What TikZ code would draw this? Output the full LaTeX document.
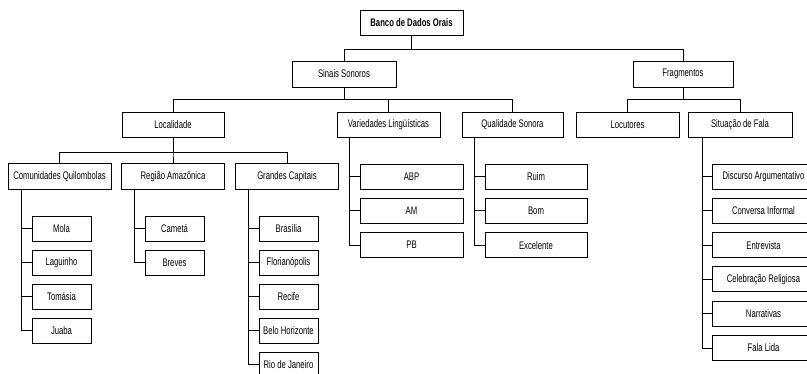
\documentclass[tikz,border=0pt]{standalone}
\usepackage{fontspec}
\setmainfont{Liberation Sans}[FakeStretch=0.7]
\begin{document}
\begin{tikzpicture}[x=1pt,y=-1pt,
  box/.style={draw, line width=1pt, minimum width=103pt, minimum height=25pt, inner sep=0pt,
    font=\fontsize{11}{13}\selectfont},
  leaf/.style={box, minimum width=59pt},
  conn/.style={draw, line width=0.9pt}]
\useasboundingbox (0,0) rectangle (807,373);
% level 0
\node[box, font=\fontsize{11}{13}\selectfont\bfseries] (banco) at (411.5,22.5) {Banco de Dados Orais};
% level 1
\node[box, minimum width=104pt, minimum height=26pt] (sinais) at (344,74) {Sinais Sonoros};
\node[box, minimum width=100pt, minimum height=26pt] (frag) at (683,74) {Fragmentos};
% level 2
\node[box, minimum width=102pt] (loc) at (173,125) {Localidade};
\node[box] (var) at (388.5,125) {Variedades Lingüísticas};
\node[box, minimum width=101pt] (qual) at (512.5,125) {Qualidade Sonora};
\node[box] (locu) at (627.5,125) {Locutores};
\node[box, minimum width=104pt] (sit) at (740,125) {Situação de Fala};
% level 3
\node[box, minimum height=26pt] (com) at (59.5,176.5) {Comunidades Quilombolas};
\node[box, minimum height=26pt] (reg) at (173,176.5) {Região Amazônica};
\node[box, minimum height=26pt] (gra) at (287,176.5) {Grandes Capitais};
% leaves of Comunidades
\node[leaf] (mola) at (61.5,228.5) {Mola};
\node[leaf] (lag) at (61.5,262.5) {Laguinho};
\node[leaf] (tom) at (61.5,296.5) {Tomásia};
\node[leaf] (jua) at (61.5,330.5) {Juaba};
% leaves of Regiao
\node[leaf] (cam) at (174.5,228.5) {Cametá};
\node[leaf] (bre) at (174.5,262.5) {Breves};
% leaves of Grandes Capitais
\node[leaf] (bra) at (288.5,228.5) {Brasília};
\node[leaf] (flo) at (288.5,262.5) {Florianópolis};
\node[leaf] (rec) at (288.5,296.5) {Recife};
\node[leaf] (bel) at (288.5,330.5) {Belo Horizonte};
\node[leaf] (rio) at (288.5,364.5) {Rio de Janeiro};
% leaves of Variedades
\node[box] (abp) at (411.5,176.5) {ABP};
\node[box] (am) at (411.5,210.8) {AM};
\node[box] (pb) at (411.5,245.1) {PB};
% leaves of Qualidade
\node[box, minimum width=102pt] (ruim) at (536,176.5) {Ruim};
\node[box, minimum width=102pt] (bom) at (536,210.8) {Bom};
\node[box, minimum width=102pt] (exc) at (536,245.1) {Excelente};
% leaves of Situacao
\node[box] (disc) at (763.5,176.5) {Discurso Argumentativo};
\node[box] (conv) at (763.5,210.8) {Conversa Informal};
\node[box] (entr) at (763.5,245.1) {Entrevista};
\node[box] (cele) at (763.5,279.4) {Celebração Religiosa};
\node[box] (narr) at (763.5,313.7) {Narrativas};
\node[box] (fala) at (763.5,348) {Fala Lida};
% bus coordinates
\coordinate (bus1) at (0,49);
\coordinate (bus2) at (0,99);
\coordinate (bus3) at (0,152);
\coordinate (vcom) at (21,0);
\coordinate (vreg) at (134,0);
\coordinate (vgra) at (248,0);
\coordinate (vvar) at (349,0);
\coordinate (vqual) at (474,0);
\coordinate (vsit) at (702,0);
% tree connectors
\foreach \c in {sinais,frag}
  \draw[conn] (banco.south) -- (banco.south |- bus1) -| (\c.north);
\foreach \c in {loc,var,qual}
  \draw[conn] (sinais.south) -- (sinais.south |- bus2) -| (\c.north);
\foreach \c in {locu,sit}
  \draw[conn] (frag.south) -- (frag.south |- bus2) -| (\c.north);
\foreach \c in {com,reg,gra}
  \draw[conn] (loc.south) -- (loc.south |- bus3) -| (\c.north);
% list connectors
\foreach \p/\v/\l in {com/vcom/{mola,lag,tom,jua}, reg/vreg/{cam,bre},
    gra/vgra/{bra,flo,rec,bel,rio}, var/vvar/{abp,am,pb},
    qual/vqual/{ruim,bom,exc}, sit/vsit/{disc,conv,entr,cele,narr,fala}}
  \foreach \c in \l
    \draw[conn] (\v |- \p.south) |- (\c.west);
\end{tikzpicture}
\end{document}
